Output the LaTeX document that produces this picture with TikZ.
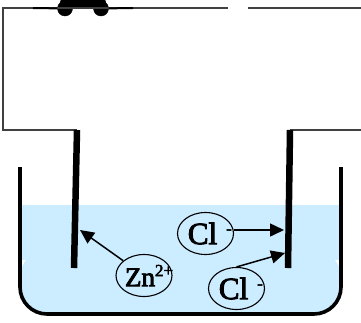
\documentclass[tikz,border=0pt]{standalone}
\usepackage{fontspec}
\setmainfont{Liberation Serif}
\newfontfamily\ionfont[FakeBold=3]{Liberation Serif}
\usetikzlibrary{shapes.geometric,arrows.meta}
\definecolor{water}{RGB}{204,236,255}
\newcommand{\ionsup}[2]{\rlap{\hspace{#1}\raisebox{10pt}{\fontsize{17}{17}\selectfont\ionfont #2}}}
\tikzset{%
	wire/.style      = {draw, line width = 1.3pt, color = black!75},
	plate/.style     = {draw, line width = 6.5pt},
	beaker/.style    = {draw, line width = 3.6pt, rounded corners = 27pt},
	ion/.style       = {draw, ellipse, line width = 1.1pt, inner sep = 0pt,
		minimum width = 56pt, minimum height = 42pt},
	ionarrow/.style  = {draw, line width = 1.5pt, -{Triangle[length = 14pt, width = 13pt]}},
	contact/.style   = {draw, circle, fill = black, inner sep = 0pt, minimum size = 15pt}
}
\begin{document}
\begin{tikzpicture}[x=1pt,y=-1pt]
			\useasboundingbox (0,0) rectangle (361,322);
			\clip (0,0) rectangle (361,322);
			
			% liquid
			\fill[water,rounded corners=27pt] (20,250) -- (20,314) -- (341,314) -- (341,250) -- cycle;
			\fill[water] (20,205) rectangle (341,260);
			\draw[beaker] (20,167) -- (20,314) -- (341,314) -- (341,167);
			
			% circuit
			\coordinate (lefttop)  at (3,8);
			\coordinate (leftbot)  at (3,130);
			\coordinate (gapl)     at (228,8);
			\coordinate (gapr)     at (248,8);
			\coordinate (rightend) at (361,8);
			\coordinate (rightcut) at (361,130);
			\coordinate (anodetop) at (77,130);
			\coordinate (anodebot) at (74,268);
			\coordinate (cathtop)  at (290,130);
			\coordinate (cathbot)  at (288,268);
			\node[contact] (swl) at (65,8.5) {};
			\node[contact] (swr) at (101,8.5) {};
			
			\draw[wire] (gapl) -- (lefttop) -- (leftbot) -- (anodetop);
			\draw[wire] (gapr) -- (rightend);
			\draw[wire] (rightcut) -- (cathtop);
			\draw[line width=2pt] (33,8) -- (swl);
			\draw[line width=2pt] (swr) -- (133,8);
			\draw[line width=10pt,line cap=round] (swl.north) ++(0,1) -- ([yshift=-1pt]swr.north);
			
			% electrodes
			\draw[plate] (anodetop) -- (anodebot);
			\draw[plate] (cathtop) -- (cathbot);
			
			% ions
			\node[ion] (zn)  at (144,275.5) {\hspace*{-8pt}\fontsize{27}{27}\selectfont\ionfont Zn\ionsup{0pt}{2+}};
			\node[ion] (cla) at (205.5,233.5) {\hspace*{-6pt}\fontsize{31}{31}\selectfont\ionfont Cl\ionsup{9pt}{-}};
			\node[ion] (clb) at (236.5,288.5) {\hspace*{-6pt}\fontsize{31}{31}\selectfont\ionfont Cl\ionsup{9pt}{-}};
			\coordinate (zntip)  at (80,230);
			\coordinate (clatip) at (284,230);
			\coordinate (clbtip) at (285,253);
			
			\draw[ionarrow] (zn) -- (zntip);
			\draw[ionarrow] (cla.east |- clatip) -- (clatip);
			\draw[ionarrow] (clb.north) -- (clbtip);
		\end{tikzpicture}
\end{document}
